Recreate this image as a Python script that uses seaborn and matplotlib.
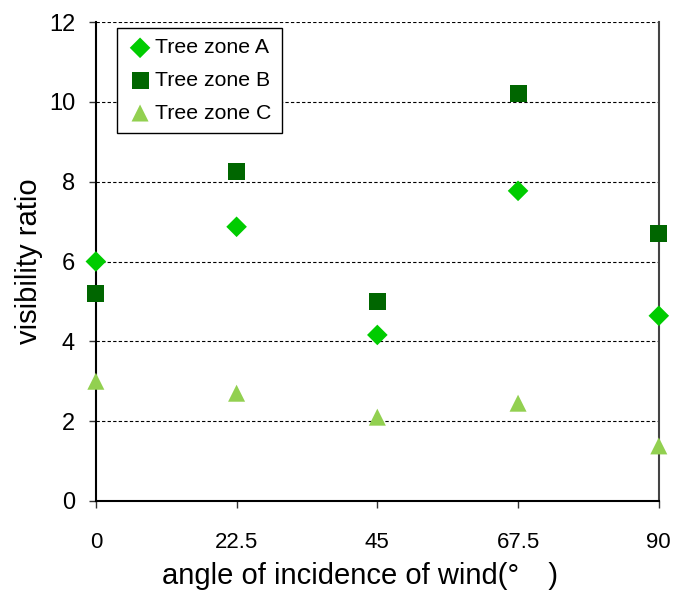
import matplotlib
matplotlib.use("Agg")
import matplotlib.pyplot as plt
import seaborn as sns
import pandas as pd

angles = [0, 22.5, 45, 67.5, 90]
zone_a = [6.0, 6.87, 4.16, 7.77, 4.64]
zone_b = [5.19, 8.25, 5.01, 10.2, 6.69]
zone_c = [3.0, 2.7, 2.1, 2.45, 1.38]
series_names = ["Tree zone A", "Tree zone B", "Tree zone C"]
x_ticks = [0, 22.5, 45, 67.5, 90]
x_tick_labels = ["0", "22.5", "45", "67.5", "90"]
y_ticks = [0, 2, 4, 6, 8, 10, 12]

sns.set_style("white")
plt.rcParams['font.family'] = ['Liberation Sans', 'Noto Sans CJK JP', 'DejaVu Sans']
plt.rcParams['text.color'] = 'black'
plt.rcParams['axes.labelcolor'] = 'black'
plt.rcParams['xtick.labelcolor'] = 'black'
plt.rcParams['ytick.labelcolor'] = 'black'

df = pd.DataFrame({
    "angle": angles * 3,
    "value": zone_a + zone_b + zone_c,
    "zone": [series_names[0]] * 5 + [series_names[1]] * 5 + [series_names[2]] * 5,
})

palette = {series_names[0]: "#00CC00", series_names[1]: "#006600", series_names[2]: "#92D050"}
markers = {series_names[0]: "D", series_names[1]: "s", series_names[2]: "^"}
sizes = {series_names[0]: 110, series_names[1]: 150, series_names[2]: 150}

fig = plt.figure(figsize=(6.75, 5.95), dpi=100)
ax = fig.add_axes([0.142, 0.158, 0.834, 0.805])

for name in series_names:
    sub = df[df.zone == name]
    sns.scatterplot(data=sub, x="angle", y="value", color=palette[name], marker=markers[name],
                    s=sizes[name], edgecolor="none", label=name, ax=ax, zorder=3, clip_on=False)

ax.set_xlim(0, 90)
ax.set_ylim(0, 12)
ax.set_xticks(x_ticks)
ax.set_xticklabels(x_tick_labels)
ax.set_yticks(y_ticks)
ax.yaxis.grid(True, linestyle=(0, (3, 2)), color="black", linewidth=0.8)
ax.set_axisbelow(True)
ax.tick_params(axis="both", direction="out", length=5, width=1, color="#333333",
               bottom=True, left=True)
ax.tick_params(axis="x", labelsize=16, pad=17)
ax.tick_params(axis="y", labelsize=17, pad=10)
ax.spines["top"].set_visible(False)
ax.spines["left"].set_color("black")
ax.spines["left"].set_linewidth(1.5)
ax.spines["bottom"].set_color("black")
ax.spines["bottom"].set_linewidth(1.5)
ax.spines["right"].set_color("#444444")
ax.spines["right"].set_linewidth(1.5)

ax.set_xlabel("angle of incidence of wind(°\u3000)", fontsize=21)
ax.xaxis.set_label_coords(0.469, -0.128)
ax.set_ylabel("visibility ratio", fontsize=21, labelpad=4)

leg = ax.legend(loc="upper left", bbox_to_anchor=(0.037, 0.988), fontsize=15.3, frameon=True,
                fancybox=False, edgecolor="black", framealpha=1, handletextpad=0.1,
                borderpad=0.5, labelspacing=0.64, handlelength=1.2, borderaxespad=0)
leg.get_frame().set_linewidth(1.0)

fig.savefig("out.png", dpi=100)
